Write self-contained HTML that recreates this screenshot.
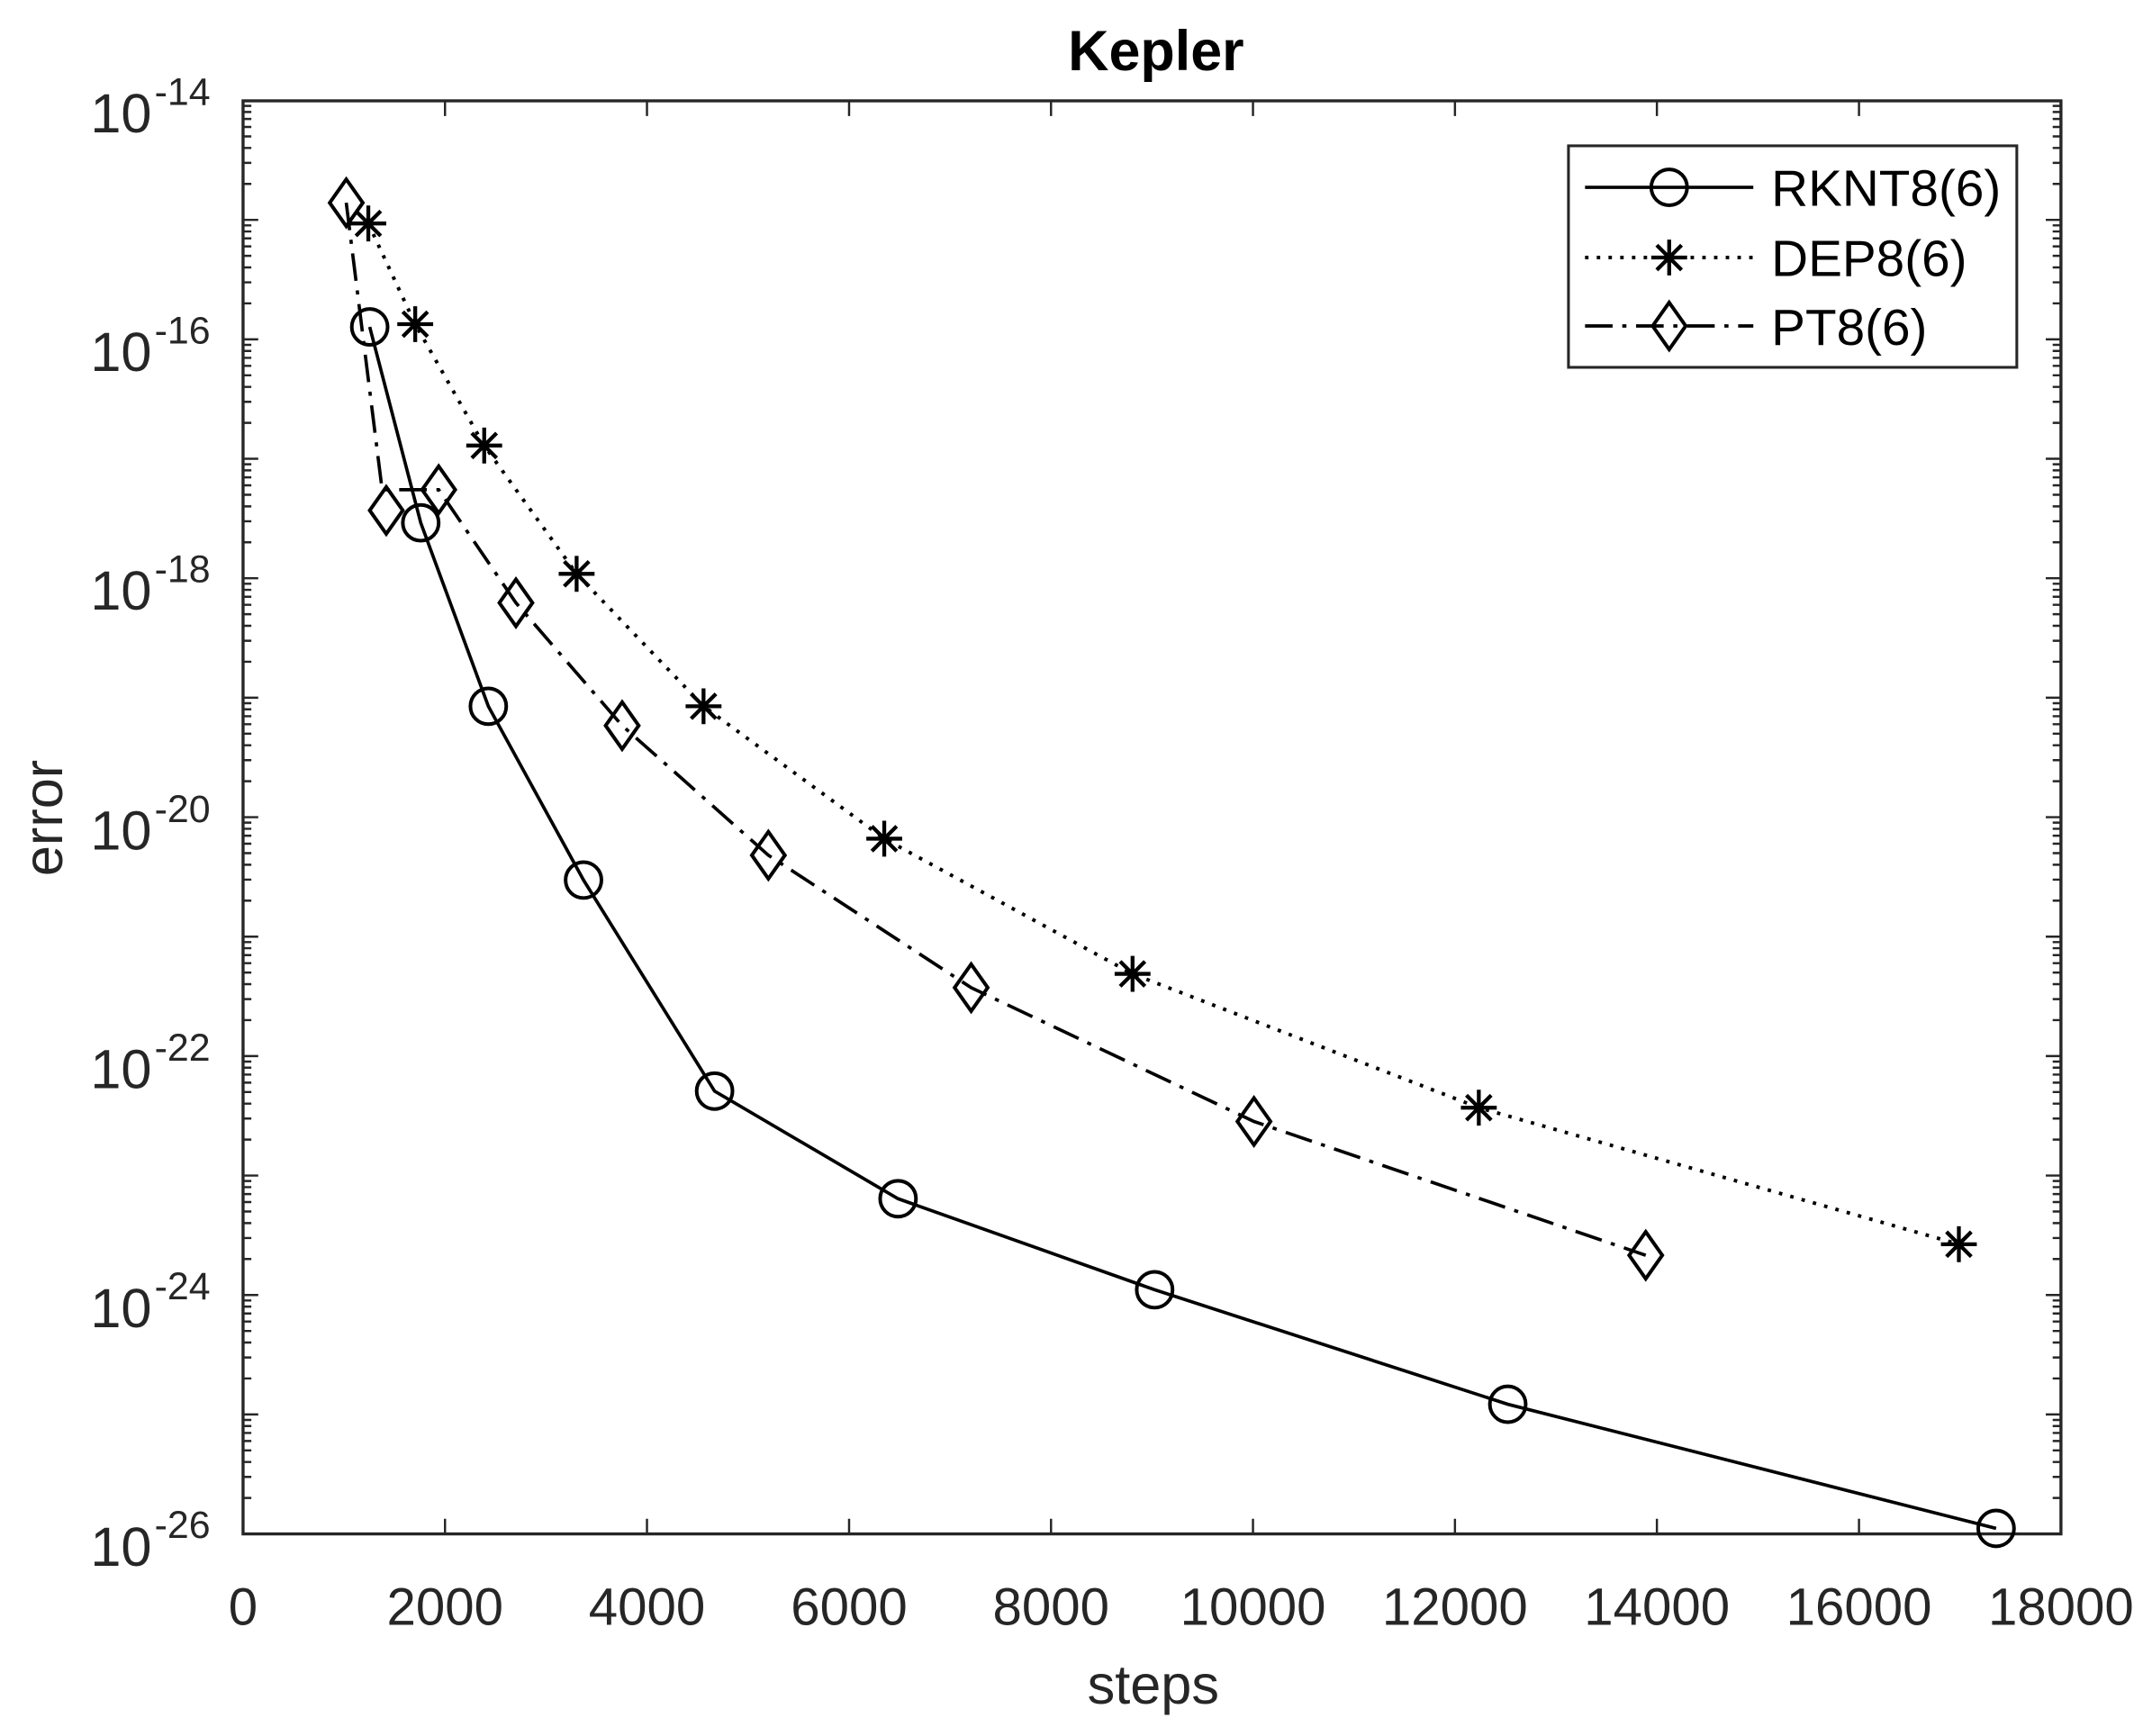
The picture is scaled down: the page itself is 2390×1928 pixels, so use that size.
<!DOCTYPE html>
<html><head><meta charset="utf-8"><style>html,body{margin:0;padding:0;background:#fff}svg{display:block}</style></head>
<body>
<svg width="2390" height="1928" viewBox="0 0 1560 1258.5" preserveAspectRatio="none" xmlns="http://www.w3.org/2000/svg">
<defs>
<g id="dec" stroke="#262626" stroke-width="1.6">
<path d="M176.2,-26.07h6M176.2,-41.31h6M176.2,-52.13h6M176.2,-60.53h6M176.2,-67.37h6M176.2,-73.18h6M176.2,-78.2h6M176.2,-82.62h6M1494,-26.07h-6M1494,-41.31h-6M1494,-52.13h-6M1494,-60.53h-6M1494,-67.37h-6M1494,-73.18h-6M1494,-78.2h-6M1494,-82.62h-6"/>
<path d="M176.2,0h11M1494,0h-11"/>
</g>
<circle id="c" r="13" fill="none" stroke="#000" stroke-width="2.6"/>
<path id="s" d="M0,-13V13M-13,0H13M-9,-9L9,9M-9,9L9,-9" stroke="#000" stroke-width="2.8" fill="none"/>
<path id="d" d="M0,-17L12,0L0,17L-12,0Z" fill="none" stroke="#000" stroke-width="2.6"/>
</defs>
<rect width="1560" height="1258.5" fill="#fff"/>
<g>
<use href="#dec" y="1112"/><use href="#dec" y="1025.4"/><use href="#dec" y="938.8"/><use href="#dec" y="852.2"/><use href="#dec" y="765.6"/><use href="#dec" y="679"/><use href="#dec" y="592.4"/><use href="#dec" y="505.8"/><use href="#dec" y="419.2"/><use href="#dec" y="332.6"/><use href="#dec" y="246"/><use href="#dec" y="159.4"/>
</g>
<g stroke="#262626" stroke-width="1.6">
<path d="M322.6,1112v-11M469,1112v-11M615.5,1112v-11M761.9,1112v-11M908.3,1112v-11M1054.7,1112v-11M1201.1,1112v-11M1347.6,1112v-11M322.6,73.1v11M469,73.1v11M615.5,73.1v11M761.9,73.1v11M908.3,73.1v11M1054.7,73.1v11M1201.1,73.1v11M1347.6,73.1v11"/>
</g>
<rect x="176.2" y="73.1" width="1317.8" height="1038.9" fill="none" stroke="#262626" stroke-width="2.2"/>
<g font-family="Liberation Sans, sans-serif" fill="#262626" font-size="38" text-anchor="middle">
<text x="176.2" y="1178">0</text><text x="322.6" y="1178">2000</text><text x="469" y="1178">4000</text><text x="615.5" y="1178">6000</text><text x="761.9" y="1178">8000</text><text x="908.3" y="1178">10000</text><text x="1054.7" y="1178">12000</text><text x="1201.1" y="1178">14000</text><text x="1347.6" y="1178">16000</text><text x="1494" y="1178">18000</text>
</g>
<g font-family="Liberation Sans, sans-serif" fill="#262626">
<g font-size="40" text-anchor="end">
<text x="110" y="96">10</text><text x="110" y="269">10</text><text x="110" y="442">10</text><text x="110" y="616">10</text><text x="110" y="789">10</text><text x="110" y="962">10</text><text x="110" y="1135">10</text>
</g>
<g font-size="28">
<text x="112" y="76">-14</text><text x="112" y="249">-16</text><text x="112" y="422">-18</text><text x="112" y="596">-20</text><text x="112" y="769">-22</text><text x="112" y="942">-24</text><text x="112" y="1115">-26</text>
</g>
<text x="836" y="1235" font-size="40" text-anchor="middle">steps</text>
<text x="0" y="0" font-size="40" text-anchor="middle" transform="translate(45,593) rotate(-90)">error</text>
<text x="838" y="51" font-size="41" font-weight="bold" fill="#000" text-anchor="middle">Kepler</text>
</g>
<!-- RKNT -->
<polyline fill="none" stroke="#000" stroke-width="2.4" points="268,237 305,379 354,512 423,638 518,791 651,869 837,935 1093,1018 1447,1108"/>
<g>
<use href="#c" x="268" y="237"/><use href="#c" x="305" y="379"/><use href="#c" x="354" y="512"/><use href="#c" x="423" y="638"/><use href="#c" x="518" y="791"/><use href="#c" x="651" y="869"/><use href="#c" x="837" y="935"/><use href="#c" x="1093" y="1018"/><use href="#c" x="1447" y="1108"/>
</g>
<!-- DEP -->
<polyline fill="none" stroke="#000" stroke-width="2.6" stroke-dasharray="2.5,6" points="267,162 301,235 351,323 418,416 510,512 641,608 821,706 1072,803 1420,902"/>
<g>
<use href="#s" x="267" y="162"/><use href="#s" x="301" y="235"/><use href="#s" x="351" y="323"/><use href="#s" x="418" y="416"/><use href="#s" x="510" y="512"/><use href="#s" x="641" y="608"/><use href="#s" x="821" y="706"/><use href="#s" x="1072" y="803"/><use href="#s" x="1420" y="902"/>
</g>
<!-- PT -->
<polyline fill="none" stroke="#000" stroke-width="2.4" stroke-dasharray="20,7,3,7" points="251,147 277,355 318,355 374,437 451,526 557,620 704,716 909,813 1193,910"/>
<g>
<use href="#d" x="251" y="147"/><use href="#d" x="280" y="370"/><use href="#d" x="318" y="355"/><use href="#d" x="374" y="437"/><use href="#d" x="451" y="526"/><use href="#d" x="557" y="620"/><use href="#d" x="704" y="716"/><use href="#d" x="909" y="813"/><use href="#d" x="1193" y="910"/>
</g>
<!-- legend -->
<rect x="1137" y="105.7" width="325" height="160.6" fill="#fff" stroke="#262626" stroke-width="2"/>
<line x1="1149" y1="135.8" x2="1271" y2="135.8" stroke="#000" stroke-width="2.4"/>
<use href="#c" x="1210" y="135.8"/>
<line x1="1149" y1="186.7" x2="1271" y2="186.7" stroke="#000" stroke-width="2.6" stroke-dasharray="2.5,6"/>
<use href="#s" x="1210" y="186.7"/>
<line x1="1149" y1="236.3" x2="1271" y2="236.3" stroke="#000" stroke-width="2.4" stroke-dasharray="20,7,3,7"/>
<use href="#d" x="1210" y="236.3"/>
<g font-family="Liberation Sans, sans-serif" font-size="37" fill="#000">
<text x="1284" y="149">RKNT8(6)</text><text x="1284" y="200">DEP8(6)</text><text x="1284" y="250">PT8(6)</text>
</g>
</svg>
</body></html>
